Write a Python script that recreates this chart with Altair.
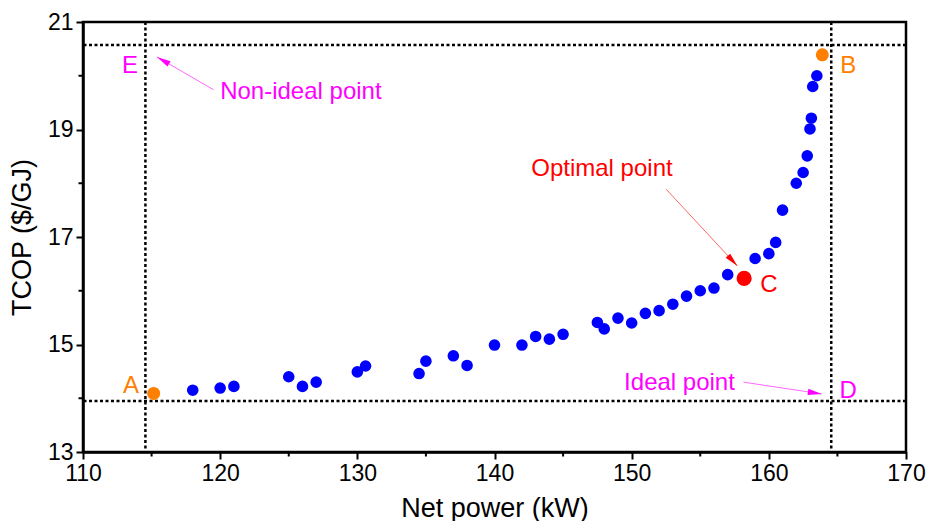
import math
import altair as alt
import pandas as pd

# ---- data ----
blue_x = [118, 120, 121, 125, 126, 127, 130, 130.6, 134.5, 135, 137, 138, 140, 142, 143, 144, 145,
          147.5, 148, 149, 150, 151, 152, 153, 154, 155, 156, 157, 159, 160, 160.5, 161, 162, 162.5,
          162.8, 163, 163.1, 163.2, 163.5]
blue_y = [14.15, 14.19, 14.22, 14.40, 14.22, 14.30, 14.49, 14.60, 14.46, 14.69, 14.79, 14.61, 14.99,
          14.99, 15.15, 15.10, 15.19, 15.41, 15.29, 15.49, 15.40, 15.58, 15.63, 15.75, 15.90, 16.00,
          16.05, 16.30, 16.60, 16.69, 16.90, 17.50, 18.00, 18.20, 18.51, 19.01, 19.21, 19.80, 20.00]

orange_x = [115.15, 163.9]
orange_y = [14.09, 20.39]

opt_x = [158.2]
opt_y = [16.23]

vlines = [114.55, 164.55]
hlines = [13.95, 20.57]

x_ticks = [110, 120, 130, 140, 150, 160, 170]
y_ticks = [13, 15, 17, 19, 21]
x_minor = [115, 125, 135, 145, 155, 165]
y_minor = [14, 16, 18, 20]

label_text = ["Non-ideal point", "E", "Optimal point", "C", "Ideal point", "D", "A", "B"]
label_x = [120.0, 112.84, 142.68, 159.37, 149.45, 165.15, 112.92, 165.2]
label_y = [19.57, 20.06, 18.13, 15.97, 14.15, 14.00, 14.09, 20.06]
label_color = ["#FF00FF", "#FF00FF", "#FF0000", "#FF0000", "#FF00FF", "#FF00FF", "#FF8000", "#FF8000"]

arrow_x = [119.52, 152.51, 158.15]
arrow_y = [19.74, 17.89, 14.30]
arrow_x2 = [115.39, 157.71, 163.86]
arrow_y2 = [20.35, 16.46, 14.08]
arrow_color = ["#FF00FF", "#FF0000", "#FF00FF"]

# ---- layout ----
W, H = 823, 430
XD, YD = [110, 170], [13, 21]
FONT = "Liberation Sans"

xs = alt.Scale(domain=XD, nice=False, zero=False)
ys = alt.Scale(domain=YD, nice=False, zero=False)

x_axis = alt.Axis(values=x_ticks, title="Net power (kW)", grid=False, tickSize=7, tickWidth=2,
                  tickColor="black", domainColor="black", domainWidth=2.5, labelFontSize=23,
                  labelFont=FONT, labelColor="black", labelPadding=3, titleFont=FONT,
                  titleFontSize=27, titleFontWeight="normal", titleColor="black",
                  titleBaseline="alphabetic", titleY=64, labelFlush=False)
y_axis = alt.Axis(values=y_ticks, title="TCOP ($/GJ)", grid=False, tickSize=7, tickWidth=2,
                  tickColor="black", domainColor="black", domainWidth=2.5, labelFontSize=23,
                  labelFont=FONT, labelColor="black", labelPadding=3, titleFont=FONT,
                  titleFontSize=27, titleFontWeight="normal", titleColor="black",
                  titleAngle=270, titleAlign="center", titleBaseline="middle", titleX=-61,
                  titleY=H / 2, labelFlush=False)


def X(f):
    return alt.X(f, type="quantitative", scale=xs, axis=x_axis, title="Net power (kW)")


def Y(f):
    return alt.Y(f, type="quantitative", scale=ys, axis=y_axis, title="TCOP ($/GJ)")


blue = pd.DataFrame({"x": blue_x, "y": blue_y})
orange = pd.DataFrame({"x": orange_x, "y": orange_y})
opt = pd.DataFrame({"x": opt_x, "y": opt_y})

sx, sy = W / (XD[1] - XD[0]), H / (YD[1] - YD[0])
angles = []
for a, b, c, d in zip(arrow_x, arrow_y, arrow_x2, arrow_y2):
    dx = (c - a) * sx
    dy = -(d - b) * sy
    angles.append(math.degrees(math.atan2(dx, -dy)) % 360)
arrows = pd.DataFrame({"x": arrow_x, "y": arrow_y, "x2": arrow_x2, "y2": arrow_y2,
                       "c": arrow_color, "a": angles})
labels = pd.DataFrame({"t": label_text, "x": label_x, "y": label_y, "c": label_color})

vl = alt.Chart(pd.DataFrame({"x": vlines})).mark_rule(
    color="black", strokeWidth=2.5, strokeDash=[3, 2.5]).encode(x=X("x"))
hl = alt.Chart(pd.DataFrame({"y": hlines})).mark_rule(
    color="black", strokeWidth=2.5, strokeDash=[3, 2.5]).encode(y=Y("y"))

blue_pts = alt.Chart(blue).mark_circle(size=135, opacity=1, color="#0000FF").encode(
    x=X("x"), y=Y("y"))
orange_pts = alt.Chart(orange).mark_circle(size=170, opacity=1, color="#FF8000").encode(
    x=X("x"), y=Y("y"))
opt_pts = alt.Chart(opt).mark_circle(size=230, opacity=1, color="#FF0000").encode(
    x=X("x"), y=Y("y"))

arrow_lines = alt.Chart(arrows).mark_rule(strokeWidth=1, opacity=0.6).encode(
    x=X("x"), y=Y("y"), x2="x2", y2="y2", color=alt.Color("c:N", scale=None))
arrow_heads = alt.Chart(arrows).mark_point(
    shape="M0,0L0.22,1L-0.22,1Z", filled=True, opacity=1, size=784, strokeWidth=0).encode(
    x=X("x2"), y=Y("y2"), angle=alt.Angle("a:Q", scale=None), color=alt.Color("c:N", scale=None))

texts = alt.Chart(labels).mark_text(align="left", baseline="alphabetic", font=FONT,
                                    fontSize=24).encode(
    x=X("x"), y=Y("y"), text="t:N", color=alt.Color("c:N", scale=None))

xminor = alt.Chart(pd.DataFrame({"x": x_minor})).mark_rule(color="black", strokeWidth=2).encode(
    x=X("x"), y=alt.value(H), y2=alt.value(H + 4.5))
yminor = alt.Chart(pd.DataFrame({"y": y_minor})).mark_rule(color="black", strokeWidth=2).encode(
    y=Y("y"), x=alt.value(0), x2=alt.value(-4.5))

chart = alt.layer(vl, hl, blue_pts, orange_pts, opt_pts, arrow_lines, arrow_heads, texts,
                  xminor, yminor).properties(
    width=W, height=H,
    autosize=alt.AutoSizeParams(type="none"),
    padding={"left": 83, "top": 22, "right": 23, "bottom": 69},
    background="white",
).configure_view(stroke="black", strokeWidth=2.5)

chart.save("out.html", embed_options={"renderer": "svg", "actions": False})
